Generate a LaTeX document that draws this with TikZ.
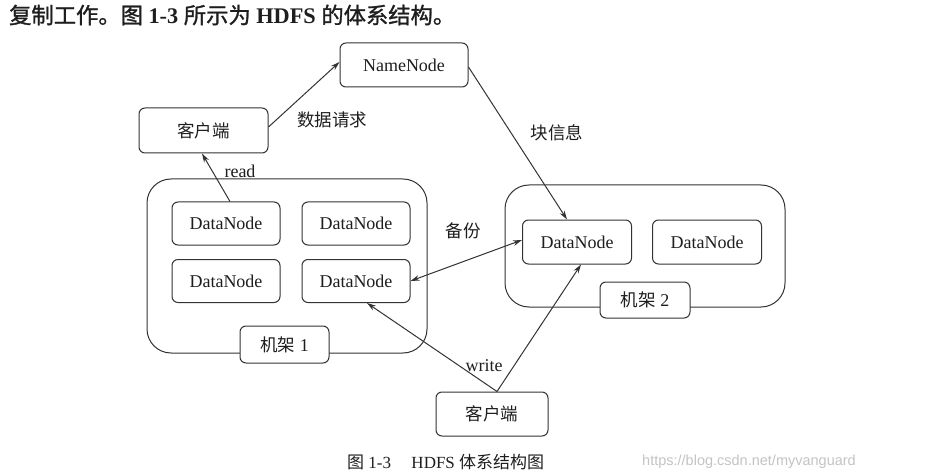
\documentclass[tikz,border=0pt]{standalone}
\usepackage{fontspec}
\setmainfont{Liberation Serif}
\newfontfamily\cjk{Noto Sans CJK SC}
\newfontfamily\cjkb[FakeBold=1.2]{Noto Sans CJK SC}
\newfontfamily\wmfont{Liberation Sans}
\usetikzlibrary{arrows.meta}
\definecolor{linec}{HTML}{333333}
\definecolor{txt}{HTML}{1E1E1E}
\definecolor{wmc}{HTML}{C4C4C4}
\begin{document}
\begin{tikzpicture}[x=1pt,y=-1pt,
  box/.style={draw=linec, line width=1pt, rounded corners=6pt, fill=white,
    minimum width=108pt, minimum height=43pt, inner sep=0pt, text=txt,
    font=\fontsize{18}{20}\selectfont},
  cbox/.style={box, font=\cjk\fontsize{17.5}{20}\selectfont},
  rack/.style={draw=linec, line width=1pt, rounded corners=24pt, inner sep=0pt},
  lbl/.style={text=txt, inner sep=1pt, font=\fontsize{18}{20}\selectfont},
  clbl/.style={text=txt, inner sep=1pt, font=\cjk\fontsize{17.5}{20}\selectfont},
  arr/.style={draw=linec, line width=1pt, -{Stealth[length=9pt,width=5.5pt]}},
  arrtwo/.style={draw=linec, line width=1pt, {Stealth[length=9pt,width=5.5pt]}-{Stealth[length=9pt,width=5.5pt]}}
]
\useasboundingbox (0,0) rectangle (935,476);
\fill[white] (0,0) rectangle (935,476);

% top text
\node[anchor=west, text=txt, inner sep=0pt, font=\fontsize{22.3}{24}\selectfont] (toptext) at (9,15)
  {{\cjkb 复制工作。图}~\textbf{1-3}~{\cjkb 所示为}~\textbf{HDFS}~{\cjkb 的体系结构。}};

% racks
\node[rack, minimum width=280pt, minimum height=174pt] (rack1) at (287,266) {};
\node[rack, minimum width=280pt, minimum height=122pt] (rack2) at (645,246) {};

% nodes
\node[box, minimum width=128pt, minimum height=44pt] (NN) at (404,65) {NameNode};
\node[cbox, minimum width=129pt, minimum height=45pt] (C1) at (203.5,130.5) {客户端};
\node[box] (D11) at (226,223.5) {DataNode};
\node[box] (D12) at (356,223.5) {DataNode};
\node[box] (D21) at (226,281) {DataNode};
\node[box] (D22) at (356,281) {DataNode};
\node[box, minimum width=89pt, minimum height=37pt] (R1) at (284.5,344.5) {{\cjk\fontsize{17.5}{20}\selectfont 机架}~1};
\node[box, minimum width=109pt, minimum height=44pt] (E1) at (577,242) {DataNode};
\node[box, minimum width=109pt, minimum height=44pt] (E2) at (707,242) {DataNode};
\node[box, minimum width=90pt, minimum height=36pt] (R2) at (645,300) {{\cjk\fontsize{17.5}{20}\selectfont 机架}~2};
\node[cbox, minimum width=112pt, minimum height=44pt] (C2) at (492,414) {客户端};

% connectors
\draw[arr] ([yshift=3.5pt]C1.east) -- ([yshift=3pt]NN.west);
\draw[arr] ([yshift=-2pt]NN.east) -- ([xshift=-10pt]E1.north);
\draw[arr] ([xshift=4pt]D11.north) -- ([xshift=-1.5pt]C1.south);
\draw[arrtwo] (D22.east) -- ([yshift=2pt]E1.west);
\draw[arr] ([xshift=5pt]C2.north) -- ([xshift=11pt]D22.south);
\draw[arr] ([xshift=5pt]C2.north) -- ([xshift=4pt]E1.south);

% labels
\node[clbl] (l1) at (332,120) {数据请求};
\node[clbl] (l2) at (557,133) {块信息};
\node[lbl] (l3) at (240,171) {read};
\node[clbl] (l4) at (463,231) {备份};
\node[lbl] (l5) at (484,366) {write};

% caption
\node[anchor=west, text=txt, inner sep=0pt, font=\fontsize{17}{19}\selectfont] (cap) at (347,462)
  {{\cjk 图}~1-3\hspace{1.2em}HDFS~{\cjk 体系结构图}};
\node[anchor=east, text=wmc, inner sep=0pt, font=\wmfont\fontsize{14.5}{16}\selectfont] (wm) at (856,462)
  {https://blog.csdn.net/myvanguard};
\end{tikzpicture}
\end{document}
